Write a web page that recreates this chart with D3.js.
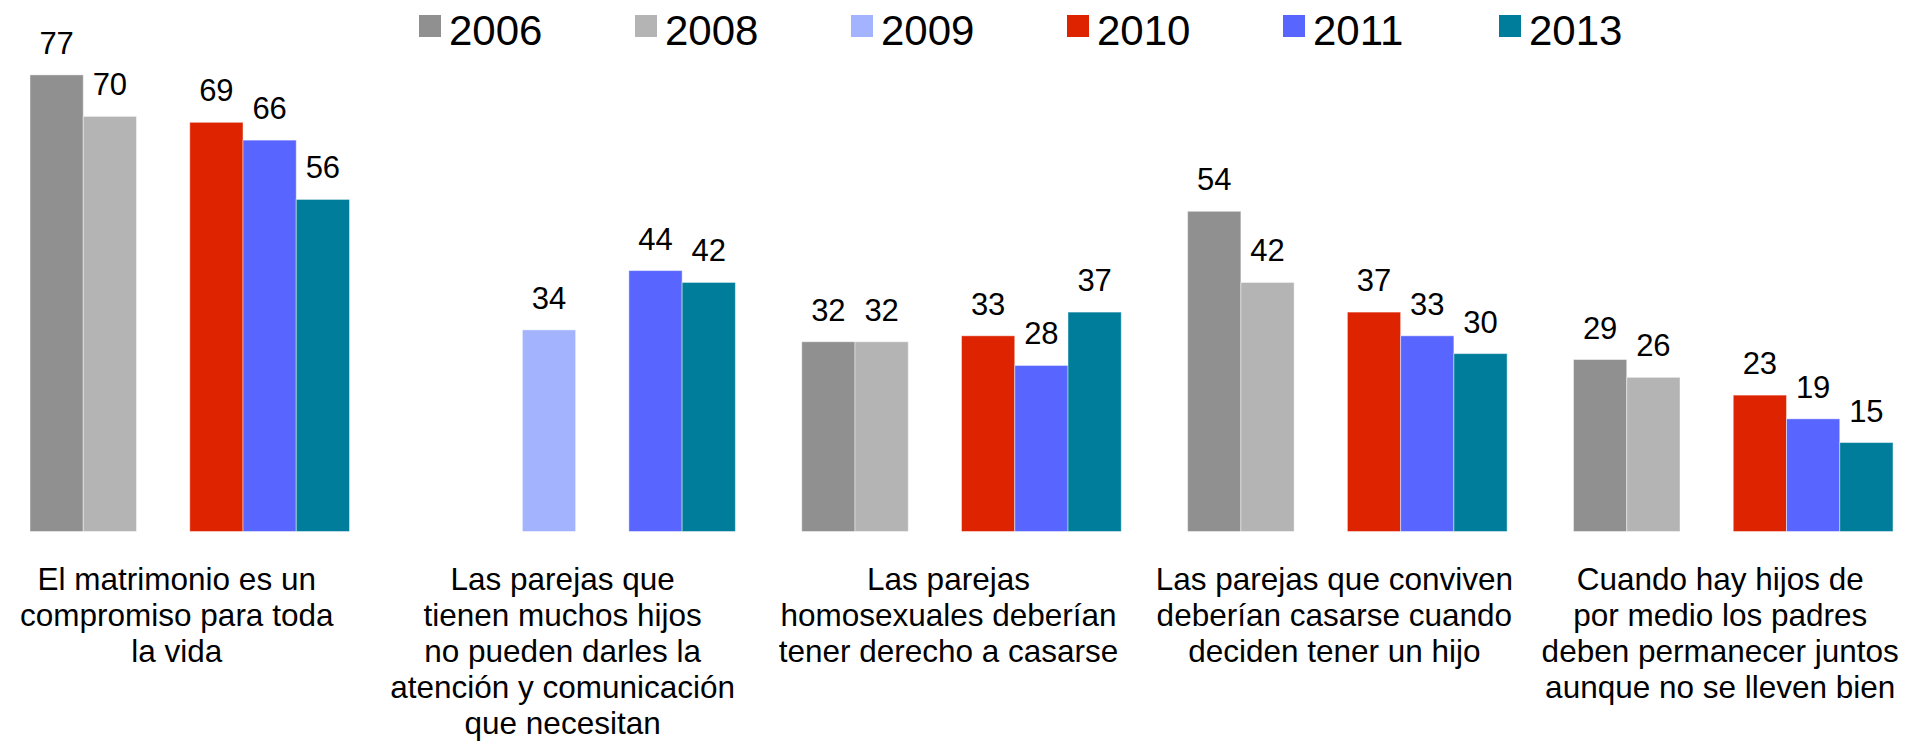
<!DOCTYPE html>
<html lang="es">
<head>
<meta charset="utf-8">
<style>
  body { margin: 0; background: #fff; }
  svg { display: block; font-family: "Liberation Sans", Arial, sans-serif; }
  .bar { stroke: rgba(255,255,255,0.45); stroke-width: 1; }
</style>
</head>
<body>
<svg width="1917" height="744"></svg>
<script src="https://d3js.org/d3.v7.min.js"></script>
<script>
// data
var years = ["2006", "2008", "2009", "2010", "2011", "2013"];
var colors = ["#909090", "#b4b4b4", "#a3b3fd", "#dd2300", "#5866ff", "#007d9b"];
var categories = ["c1", "c2", "c3", "c4", "c5"];
var labels = [
  ["El matrimonio es un", "compromiso para toda", "la vida"],
  ["Las parejas que", "tienen muchos hijos", "no pueden darles la", "atención y comunicación", "que necesitan"],
  ["Las parejas", "homosexuales deberían", "tener derecho a casarse"],
  ["Las parejas que conviven", "deberían casarse cuando", "deciden tener un hijo"],
  ["Cuando hay hijos de", "por medio los padres", "deben permanecer juntos", "aunque no se lleven bien"]
];
var v2006 = [77, null, 32, 54, 29];
var v2008 = [70, null, 32, 42, 26];
var v2009 = [null, 34, null, null, null];
var v2010 = [69, null, 33, 37, 23];
var v2011 = [66, 44, 28, 33, 19];
var v2013 = [56, 42, 37, 30, 15];
var series = [v2006, v2008, v2009, v2010, v2011, v2013];

var svg = d3.select("svg");

var x0 = d3.scaleBand()
    .domain(categories)
    .range([30, 1893])
    .paddingInner(0.172)
    .paddingOuter(0);
var x1 = d3.scaleBand()
    .domain(years)
    .range([0, x0.bandwidth()]);
var y = d3.scaleLinear()
    .domain([0, 80])
    .range([531.5, 531.5 - 80 * 5.93]);
var color = d3.scaleOrdinal().domain(years).range(colors);

var rows = [];
categories.forEach(function(c, i) {
  years.forEach(function(yr, j) {
    if (series[j][i] != null) rows.push({cat: c, year: yr, value: series[j][i]});
  });
});

var g = svg.append("g");

g.selectAll("rect")
  .data(rows)
  .enter().append("rect")
    .attr("class", "bar")
    .attr("x", function(d) { return x0(d.cat) + x1(d.year); })
    .attr("y", function(d) { return y(d.value); })
    .attr("width", x1.bandwidth())
    .attr("height", function(d) { return y(0) - y(d.value); })
    .attr("fill", function(d) { return color(d.year); });

g.selectAll("text.val")
  .data(rows)
  .enter().append("text")
    .attr("class", "val")
    .attr("x", function(d) { return x0(d.cat) + x1(d.year) + x1.bandwidth() / 2; })
    .attr("y", function(d) { return y(d.value) - 21; })
    .attr("text-anchor", "middle")
    .attr("font-size", 31)
    .attr("fill", "#000")
    .text(function(d) { return d.value; });

// category labels under each group
var catText = svg.append("g").selectAll("text")
  .data(categories)
  .enter().append("text")
    .attr("text-anchor", "middle")
    .attr("font-size", 31.5)
    .attr("fill", "#000")
    .attr("transform", function(d) {
      return "translate(" + (x0(d) + x0.bandwidth() / 2 - 13) + ",590)";
    });
catText.selectAll("tspan")
  .data(function(d, i) { return labels[i]; })
  .enter().append("tspan")
    .attr("x", 0)
    .attr("y", function(d, i) { return i * 36; })
    .text(function(d) { return d; });

// legend
var lx = d3.scalePoint().domain(years).range([419, 1499]);
var legend = svg.append("g").selectAll("g")
  .data(years)
  .enter().append("g")
    .attr("transform", function(d) { return "translate(" + lx(d) + ",0)"; });
legend.append("rect")
    .attr("y", 15)
    .attr("width", 22)
    .attr("height", 22)
    .attr("fill", color);
legend.append("text")
    .attr("x", 30)
    .attr("y", 45)
    .attr("font-size", 42)
    .attr("fill", "#000")
    .text(function(d) { return d; });
</script>
</body>
</html>
